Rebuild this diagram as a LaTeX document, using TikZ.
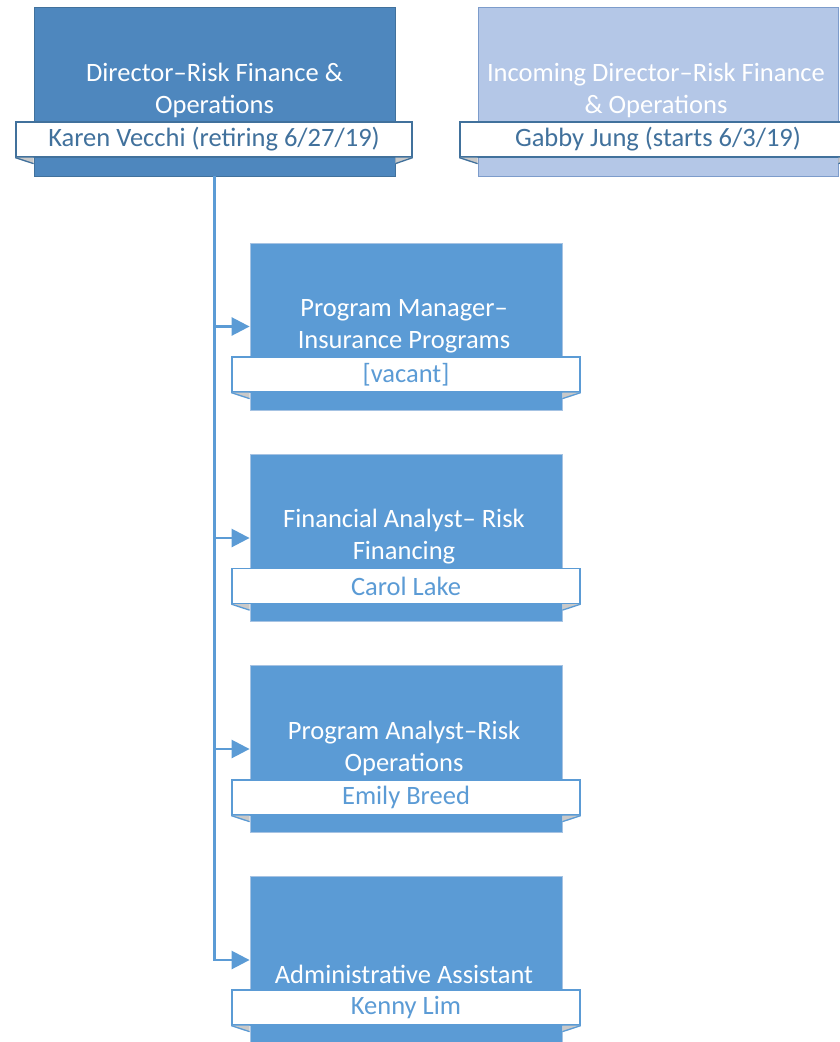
\documentclass[tikz,border=0pt]{standalone}
\usepackage{fontspec}
\setmainfont{Carlito}
\usetikzlibrary{arrows.meta}

\definecolor{dirfill}{HTML}{4E87BE}
\definecolor{dirline}{HTML}{41719C}
\definecolor{incfill}{HTML}{B4C7E7}
\definecolor{incline}{HTML}{7D9CCB}
\definecolor{subfill}{HTML}{5B9BD5}
\definecolor{subline}{HTML}{A6C3E3}
\definecolor{foldgray}{HTML}{C9C9C9}

\begin{document}
\begin{tikzpicture}[x=1pt, y=-1pt,
  every node/.style={font=\fontsize{26.5}{32}\selectfont},
  box/.style={rectangle, inner sep=0pt, line width=0.8pt},
  dirbox/.style={box, fill=dirfill, draw=dirline, minimum width=361pt, minimum height=169pt},
  incbox/.style={box, fill=incfill, draw=incline, minimum width=360pt, minimum height=169pt},
  subbox/.style={box, fill=subfill, draw=subline, minimum width=312pt, minimum height=167pt},
  title/.style={text=white, align=center, inner sep=0pt},
  band/.style={rectangle, fill=white, line width=1.3pt, inner sep=0pt, minimum height=35pt},
  dirband/.style={band, draw=dirline, text=dirline, minimum width=396pt},
  subband/.style={band, draw=subfill, text=subfill, minimum width=348pt},
  fold/.style={fill=foldgray},
  foldedge/.style={line width=1.3pt},
  link/.style={draw=subfill, line width=2.6pt, -{Triangle[length=18pt,width=18pt]}}]
\useasboundingbox (0,0) rectangle (840,1042);

% Directors
\node[dirbox] (dir) at (214.5,91.5) {};
\node[title] (dirtitle) at (214.5,90) {Director--Risk Finance \&\\Operations};
\node[dirband] (dirname) at (214,139.5) {Karen Vecchi (retiring 6/27/19)};
\fill[fold] (dirname.south west) -- (dir.west |- dirname.south) -- ([yshift=-6pt]dir.west |- dirname.south) -- cycle;
\draw[foldedge,dirline] (dirname.south west) -- ([yshift=-6pt]dir.west |- dirname.south);
\fill[fold] (dirname.south east) -- (dir.east |- dirname.south) -- ([yshift=-6pt]dir.east |- dirname.south) -- cycle;
\draw[foldedge,dirline] (dirname.south east) -- ([yshift=-6pt]dir.east |- dirname.south);

\node[incbox] (inc) at (658,91.5) {};
\node[title] (inctitle) at (656,90) {Incoming Director--Risk Finance\\\& Operations};
\node[dirband] (incname) at (658,139.5) {Gabby Jung (starts 6/3/19)};
\fill[fold] (incname.south west) -- (inc.west |- incname.south) -- ([yshift=-6pt]inc.west |- incname.south) -- cycle;
\draw[foldedge,dirline] (incname.south west) -- ([yshift=-6pt]inc.west |- incname.south);
\fill[fold] (incname.south east) -- (inc.east |- incname.south) -- ([yshift=-6pt]inc.east |- incname.south) -- cycle;
\draw[foldedge,dirline] (incname.south east) -- ([yshift=-6pt]inc.east |- incname.south);

% Staff
\node[subbox] (pm) at (406,326.5) {};
\node[title] (pmtitle) at (404,326) {Program Manager--\\Insurance Programs};
\node[subband] (pmname) at (406,374.5) {[vacant]};

\node[subbox] (fa) at (406,538) {};
\node[title] (fatitle) at (404,537) {Financial Analyst-- Risk\\Financing};
\node[subband] (faname) at (406,586) {Carol Lake};

\node[subbox] (pa) at (406,749) {};
\node[title] (patitle) at (404,748) {Program Analyst--Risk\\Operations};
\node[subband] (paname) at (406,797.5) {Emily Breed};

\node[subbox] (aa) at (406,960) {};
\node[title] (aatitle) at (404,974) {Administrative Assistant};
\node[subband] (aaname) at (406,1007.5) {Kenny Lim};

\foreach \n in {pm,fa,pa,aa}{
  \fill[fold] (\n name.south west) -- (\n.west |- \n name.south) -- ([yshift=-6pt]\n.west |- \n name.south) -- cycle;
  \draw[foldedge,subfill] (\n name.south west) -- ([yshift=-6pt]\n.west |- \n name.south);
  \fill[fold] (\n name.south east) -- (\n.east |- \n name.south) -- ([yshift=-6pt]\n.east |- \n name.south) -- cycle;
  \draw[foldedge,subfill] (\n name.south east) -- ([yshift=-6pt]\n.east |- \n name.south);
}

% Reporting lines
\draw[link] (dir.south) |- (pm.west);
\draw[link] (dir.south) |- (fa.west);
\draw[link] (dir.south) |- (pa.west);
\draw[link] (dir.south) |- (aa.west);
\end{tikzpicture}
\end{document}
